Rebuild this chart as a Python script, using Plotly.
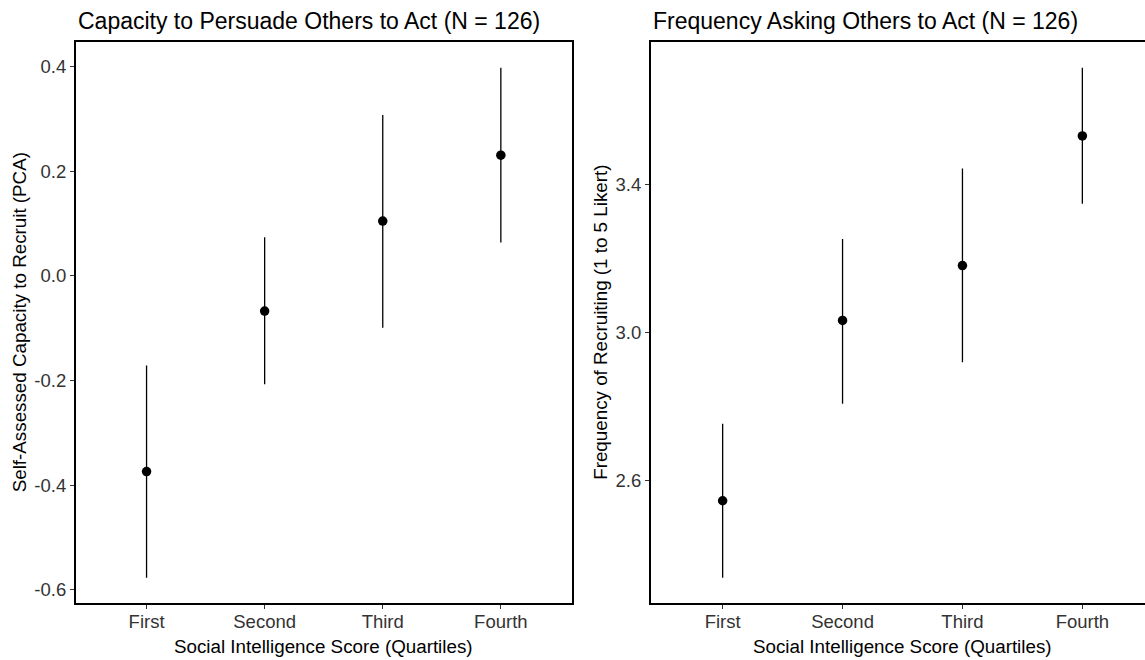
import plotly.graph_objects as go

# Quartile categories shared by both panels
quartiles = ["First", "Second", "Third", "Fourth"]

# Panel 1: self-assessed capacity to recruit (PCA score), mean with CI bounds
capacity_mean = [-0.374, -0.067, 0.105, 0.231]
capacity_low = [-0.577, -0.207, -0.099, 0.064]
capacity_high = [-0.171, 0.074, 0.308, 0.398]

# Panel 2: frequency of recruiting (1 to 5 Likert), mean with CI bounds
frequency_mean = [2.545, 3.032, 3.180, 3.530]
frequency_low = [2.337, 2.807, 2.919, 3.347]
frequency_high = [2.753, 3.252, 3.442, 3.714]

panel_titles = [
    "Capacity to Persuade Others to Act (N = 126)",
    "Frequency Asking Others to Act (N = 126)",
]
x_title = "Social Intelligence Score (Quartiles)"
y_titles = [
    "Self-Assessed Capacity to Recruit (PCA)",
    "Frequency of Recruiting (1 to 5 Likert)",
]
y_ticks = [[-0.6, -0.4, -0.2, 0.0, 0.2, 0.4], [2.6, 3.0, 3.4]]
y_ticktext = [["-0.6", "-0.4", "-0.2", "0.0", "0.2", "0.4"], ["2.6", "3.0", "3.4"]]

W, H = 1145, 660
FONT = "Liberation Sans, Arial, sans-serif"

fig = go.Figure()


def add_panel(mean, low, high, xaxis, yaxis):
    fig.add_trace(
        go.Scatter(
            x=quartiles,
            y=mean,
            mode="markers",
            xaxis=xaxis,
            yaxis=yaxis,
            marker=dict(color="black", size=9.5),
            error_y=dict(
                type="data",
                symmetric=False,
                array=[h - m for h, m in zip(high, mean)],
                arrayminus=[m - l for m, l in zip(mean, low)],
                color="black",
                thickness=1.3,
                width=0,
            ),
            showlegend=False,
            hoverinfo="skip",
        )
    )


add_panel(capacity_mean, capacity_low, capacity_high, "x", "y")
add_panel(frequency_mean, frequency_low, frequency_high, "x2", "y2")

# Pixel geometry of the two panels
top_px, bottom_px = 42.3, 603.3
left1, right1 = 75.7, 571.7
left2 = 650.7
ydom = [1 - bottom_px / H, 1 - top_px / H]


def yrange(lo, hi):
    pad = 0.05 * (hi - lo)
    return [lo - pad, hi + pad]


axis_common = dict(
    showgrid=False,
    zeroline=False,
    showline=True,
    linecolor="black",
    linewidth=1.6,
    ticks="outside",
    ticklen=4,
    tickwidth=1,
    tickcolor="#333333",
    tickfont=dict(family=FONT, size=18.5, color="#333333"),
)

# Right panel runs slightly past the page edge; its category spacing matches the
# full [-0.6, 3.6] span over a wider width, so the visible range ends earlier.
step2 = (1154.3 - left2) / 4.2
x2_end = -0.6 + (W - left2) / step2

fig.update_layout(
    width=W,
    height=H,
    margin=dict(l=0, r=0, t=0, b=0),
    paper_bgcolor="white",
    plot_bgcolor="white",
    font=dict(family=FONT, color="black"),
    xaxis=dict(
        domain=[left1 / W, right1 / W],
        type="category",
        range=[-0.6, 3.6],
        mirror=True,
        anchor="y",
        ticklabelstandoff=-3,
        **axis_common,
    ),
    yaxis=dict(
        domain=ydom,
        range=yrange(min(capacity_low), max(capacity_high)),
        tickvals=y_ticks[0],
        ticktext=y_ticktext[0],
        mirror=True,
        anchor="x",
        **axis_common,
    ),
    xaxis2=dict(
        domain=[left2 / W, 1.0],
        type="category",
        range=[-0.6, x2_end],
        mirror=True,
        anchor="y2",
        ticklabelstandoff=-3,
        **axis_common,
    ),
    yaxis2=dict(
        domain=ydom,
        range=yrange(min(frequency_low), max(frequency_high)),
        tickvals=y_ticks[1],
        ticktext=y_ticktext[1],
        mirror=False,
        anchor="x2",
        **axis_common,
    ),
)

annotations = []
# Panel titles
for title, lx in zip(panel_titles, [left1, left2]):
    annotations.append(dict(
        text=title, x=lx / W, y=1 - 20.7 / H, xref="paper", yref="paper",
        xanchor="left", yanchor="middle", showarrow=False,
        font=dict(family=FONT, size=23, color="black"),
    ))
# X-axis titles
for cx in [(left1 + right1) / 2, (left2 + 1154.3) / 2]:
    annotations.append(dict(
        text=x_title, x=cx / W, y=1 - 646.7 / H, xref="paper", yref="paper",
        xanchor="center", yanchor="middle", showarrow=False,
        font=dict(family=FONT, size=18.8, color="black"),
    ))
# Y-axis titles
for title, cx in zip(y_titles, [19.5, 601.0]):
    annotations.append(dict(
        text=title, x=cx / W, y=1 - 322.8 / H, xref="paper", yref="paper",
        xanchor="center", yanchor="middle", textangle=-90, showarrow=False,
        font=dict(family=FONT, size=18.8, color="black"),
    ))
fig.update_layout(annotations=annotations)

fig.write_html("out.html")
